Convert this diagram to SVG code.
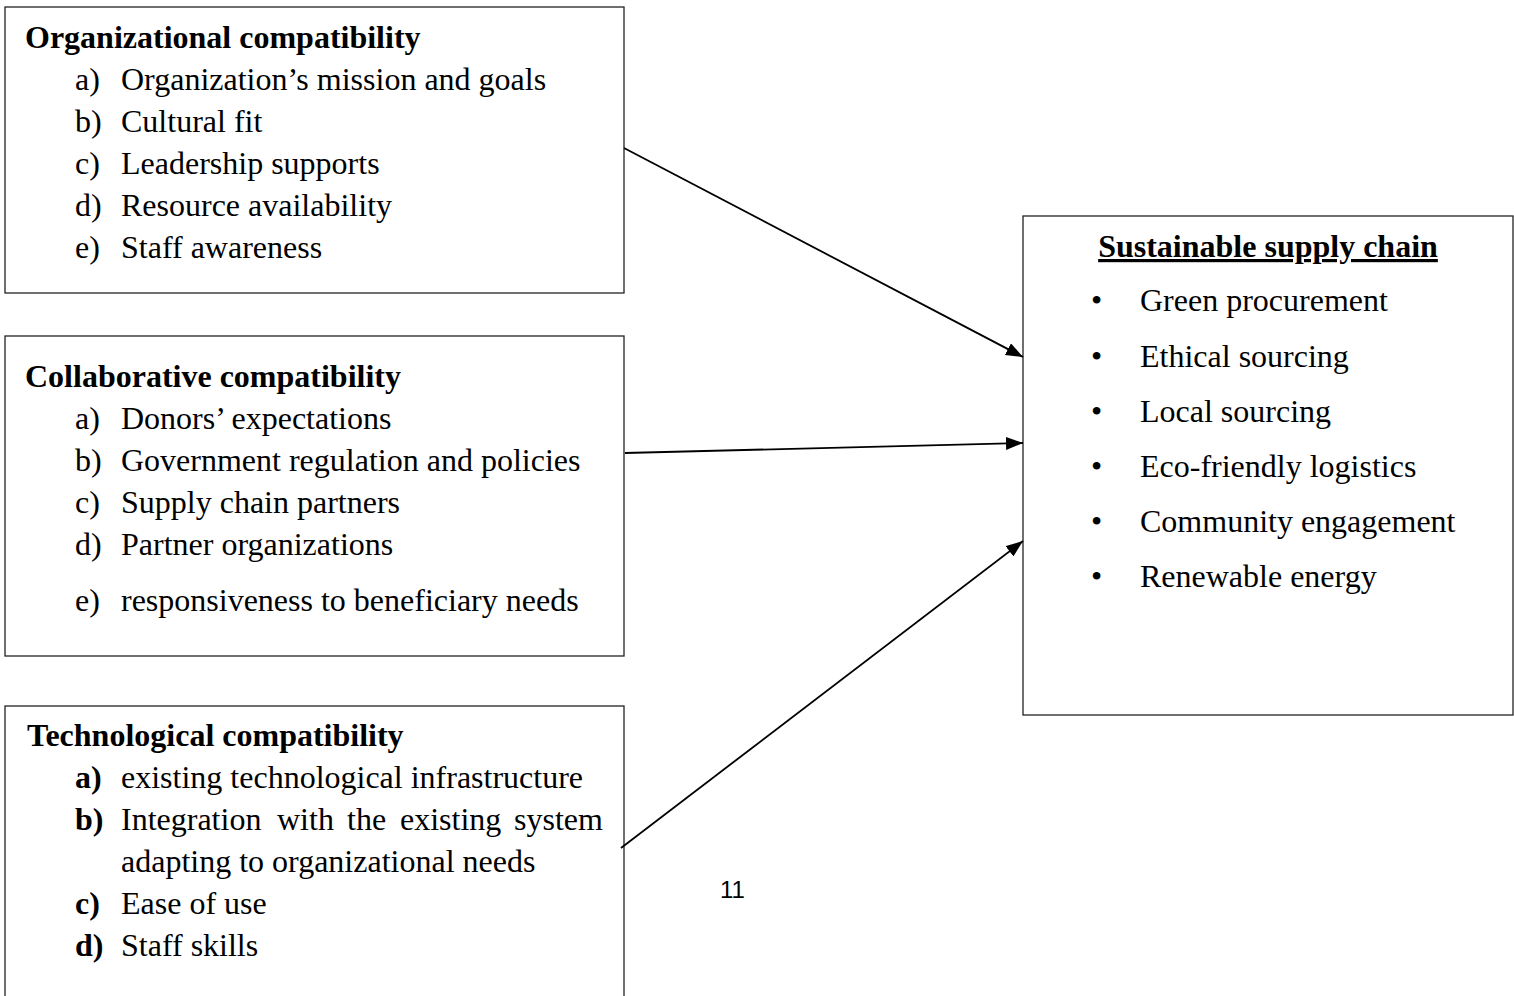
<svg xmlns="http://www.w3.org/2000/svg" width="1514" height="996" viewBox="0 0 1514 996">
<style>
.box{fill:#fff;stroke:#222;stroke-width:1.3}
.t{font-family:"Liberation Serif","Times New Roman",serif;font-size:32px;fill:#000}
.b{font-weight:bold}
.conn{stroke:#000;stroke-width:1.8;fill:none;marker-end:url(#ah)}
</style>
<defs>
<marker id="ah" viewBox="0 0 10 10" refX="10" refY="5" markerWidth="17" markerHeight="13" markerUnits="userSpaceOnUse" orient="auto" preserveAspectRatio="none">
<path d="M0,0 L10,5 L0,10 Z" fill="#000"/>
</marker>
</defs>
<rect width="1514" height="996" fill="#fff"/>
<g id="organizational">
<rect class="box" x="5" y="7" width="619" height="286"/>
<text class="t b" x="25" y="48">Organizational compatibility</text>
<text class="t" x="75" y="90">a)</text><text class="t" x="121" y="90">Organization’s mission and goals</text>
<text class="t" x="75" y="132">b)</text><text class="t" x="121" y="132">Cultural fit</text>
<text class="t" x="75" y="174">c)</text><text class="t" x="121" y="174">Leadership supports</text>
<text class="t" x="75" y="216">d)</text><text class="t" x="121" y="216">Resource availability</text>
<text class="t" x="75" y="258">e)</text><text class="t" x="121" y="258">Staff awareness</text>
</g>
<g id="collaborative">
<rect class="box" x="5" y="336" width="619" height="320"/>
<text class="t b" x="25" y="387">Collaborative compatibility</text>
<text class="t" x="75" y="429">a)</text><text class="t" x="121" y="429">Donors’ expectations</text>
<text class="t" x="75" y="471">b)</text><text class="t" x="121" y="471">Government regulation and policies</text>
<text class="t" x="75" y="513">c)</text><text class="t" x="121" y="513">Supply chain partners</text>
<text class="t" x="75" y="555">d)</text><text class="t" x="121" y="555">Partner organizations</text>
<text class="t" x="75" y="611">e)</text><text class="t" x="121" y="611">responsiveness to beneficiary needs</text>
</g>
<g id="technological">
<rect class="box" x="5" y="706" width="619" height="300"/>
<text class="t b" x="27" y="746">Technological compatibility</text>
<text class="t b" x="75" y="788">a)</text><text class="t" x="121" y="788">existing technological infrastructure</text>
<text class="t b" x="75" y="830">b)</text>
<text class="t" y="830"><tspan x="121">Integration</tspan><tspan x="277">with</tspan><tspan x="347">the</tspan><tspan x="400">existing</tspan><tspan x="514">system</tspan></text>
<text class="t" x="121" y="872">adapting to organizational needs</text>
<text class="t b" x="75" y="914">c)</text><text class="t" x="121" y="914">Ease of use</text>
<text class="t b" x="75" y="956">d)</text><text class="t" x="121" y="956">Staff skills</text>
</g>
<g id="sustainable">
<rect class="box" x="1023" y="216" width="490" height="499"/>
<text class="t b" x="1268" y="257" text-anchor="middle" text-decoration="underline">Sustainable supply chain</text>
<text class="t" x="1091" y="311">•</text><text class="t" x="1140" y="311"> Green procurement</text>
<text class="t" x="1091" y="367">•</text><text class="t" x="1140" y="367">Ethical sourcing</text>
<text class="t" x="1091" y="422">•</text><text class="t" x="1140" y="422">Local sourcing</text>
<text class="t" x="1091" y="477">•</text><text class="t" x="1140" y="477">Eco-friendly logistics</text>
<text class="t" x="1091" y="532">•</text><text class="t" x="1140" y="532">Community engagement</text>
<text class="t" x="1091" y="587">•</text><text class="t" x="1140" y="587">Renewable energy</text>
</g>
<g id="page-number">
<text x="720" y="898" font-family="'Liberation Sans',Arial,sans-serif" font-size="24" fill="#000">11</text>
</g>
<g id="connectors">
<line class="conn" x1="624" y1="148" x2="1023" y2="357"/>
<line class="conn" x1="625" y1="453" x2="1023" y2="443"/>
<line class="conn" x1="621" y1="848" x2="1023" y2="541"/>
</g>
</svg>
